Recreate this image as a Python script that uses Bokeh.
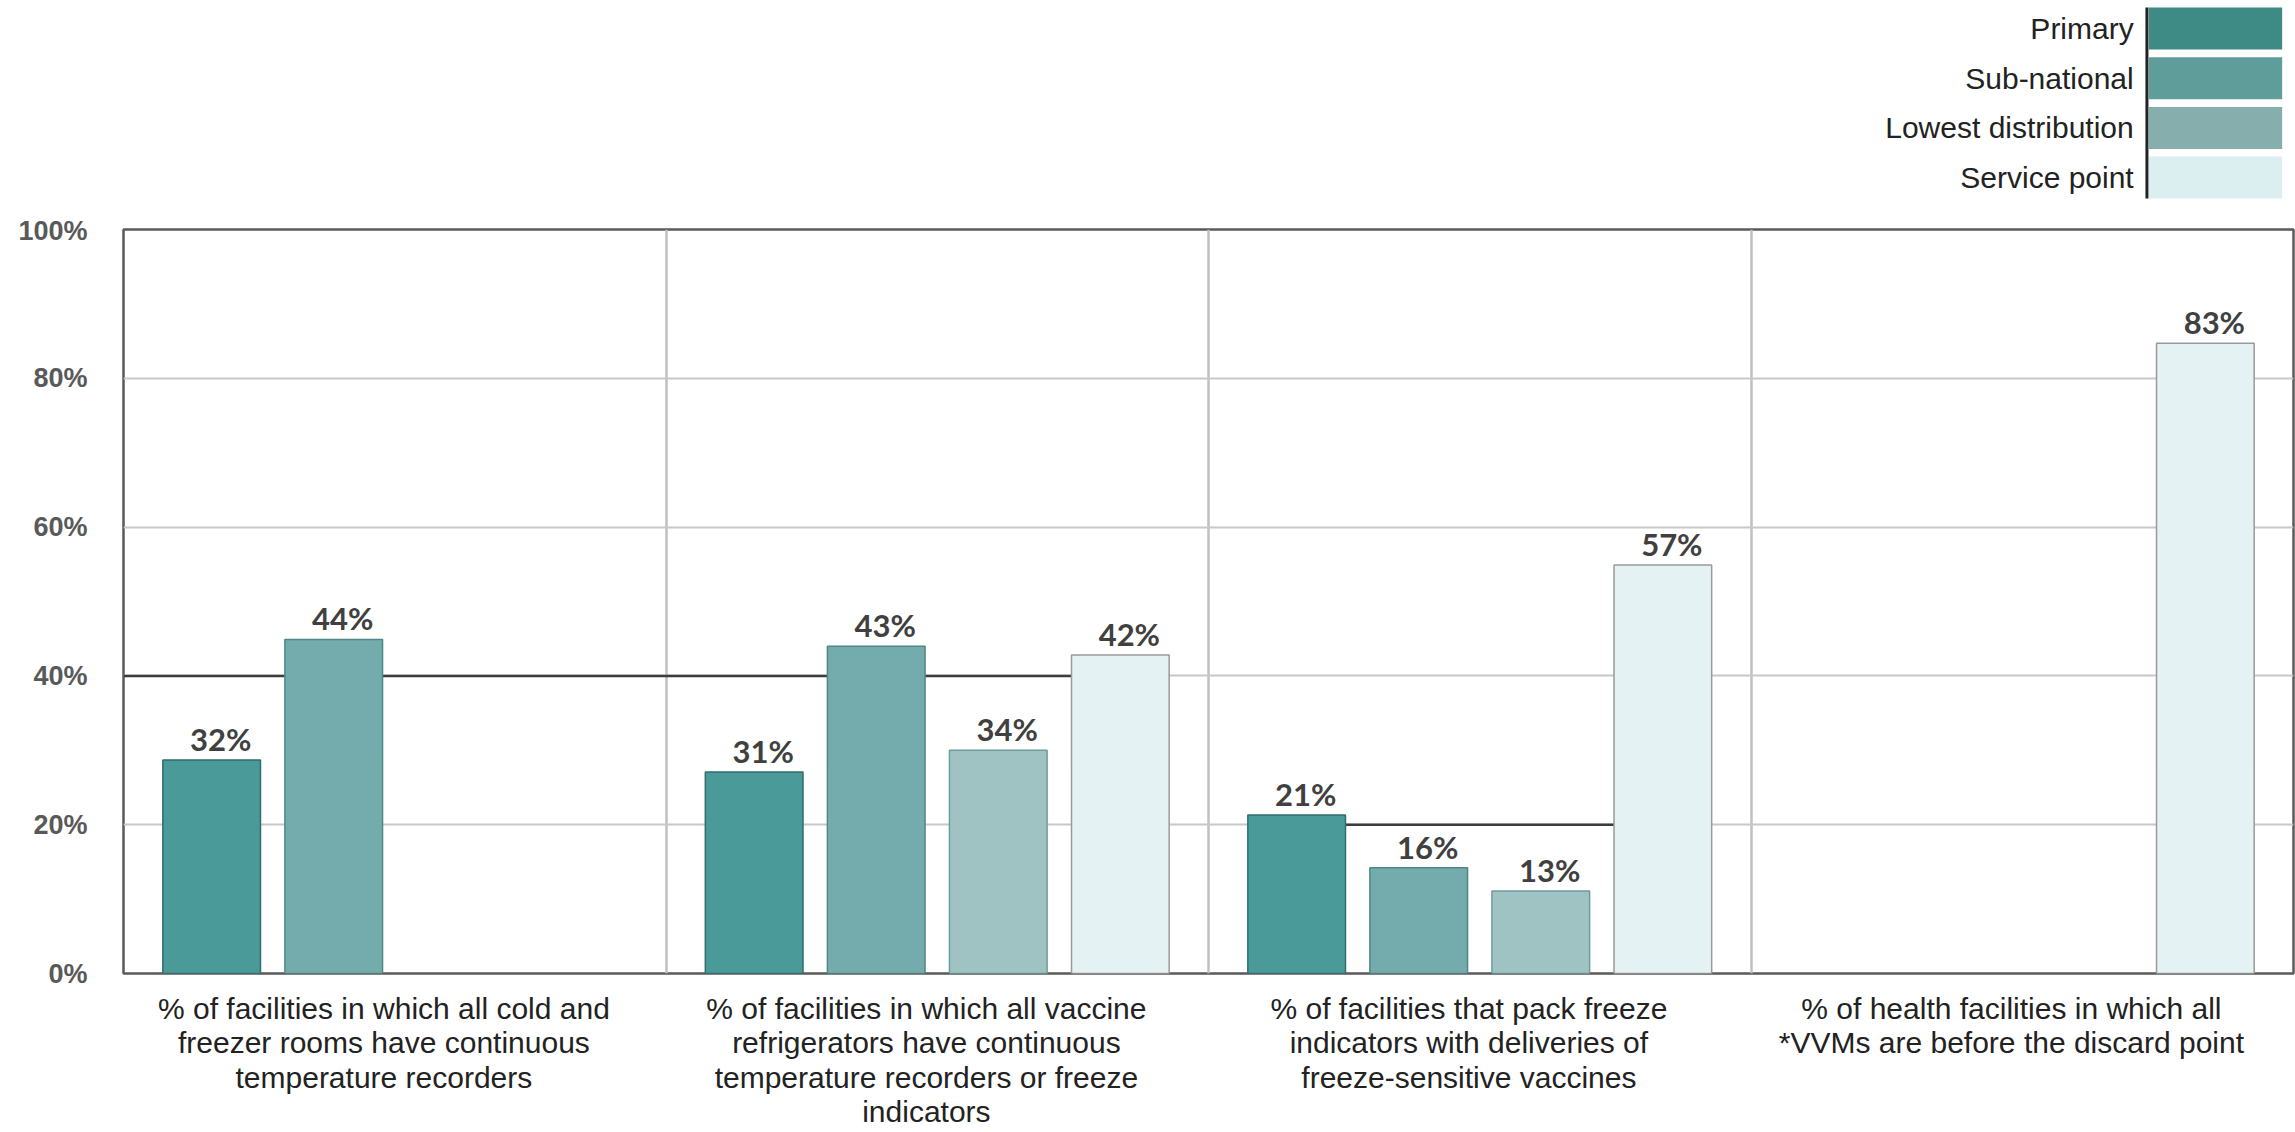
import math
from bokeh.plotting import figure
from bokeh.layouts import column
from bokeh.models import Range1d, FixedTicker, PrintfTickFormatter, ColumnDataSource
from bokeh.core.properties import value
from bokeh.embed import file_html
from bokeh.resources import INLINE

# ---------------- data ----------------
groups = [
    "% of facilities in which all cold and\nfreezer rooms have continuous\ntemperature recorders",
    "% of facilities in which all vaccine\nrefrigerators have continuous\ntemperature recorders or freeze\nindicators",
    "% of facilities that pack freeze\nindicators with deliveries of\nfreeze-sensitive vaccines",
    "% of health facilities in which all\n*VVMs are before the discard point",
]
series = ["Primary", "Sub-national", "Lowest distribution", "Service point"]

# bar heights as drawn (percent)
primary = [28.7, 27.1, 21.3, float("nan")]
sub_national = [44.9, 44.0, 14.2, float("nan")]
lowest = [float("nan"), 30.0, 11.1, float("nan")]
service = [float("nan"), 42.8, 54.9, 84.7]

# printed value labels
primary_labels = ["32%", "31%", "21%", ""]
sub_national_labels = ["44%", "43%", "16%", ""]
lowest_labels = ["", "34%", "13%", ""]
service_labels = ["", "42%", "57%", "83%"]

y_ticks = [0, 20, 40, 60, 80, 100]

# dark reference segments seen in the chart: (level, from group/series edge, to group/series edge)
ref_segments = [
    (40, (0, None), (1, 3)),
    (20, (2, 0), (2, 3)),
]

# ---------------- styling ----------------
bar_colors = ["#4a9a99", "#74acad", "#9fc3c3", "#e4f2f3"]
bar_lines = ["#2f6e6c", "#4f8786", "#6f9b9b", "#9a9a9a"]
legend_colors = ["#3e8a85", "#5f9d9a", "#86aeac", "#dbeef0"]
offsets = [-0.3375, -0.1125, 0.1125, 0.3375]
bar_w = 0.18

W, H = 2295, 1132
LEG_H = 215
MAIN_H = H - LEG_H

# ---------------- legend figure ----------------
leg = figure(width=W, height=LEG_H, x_range=Range1d(0, W), y_range=Range1d(LEG_H, 0),
             output_backend="svg", toolbar_location=None, min_border=0,
             x_axis_type=None, y_axis_type=None)
leg.outline_line_color = None
leg.grid.visible = False
sw_left, sw_right, sw_top, sw_h, sw_step = 2142, 2283, 7, 42, 49.7
tops = [sw_top + i * sw_step for i in range(len(series))]
leg.quad(left=sw_left, right=sw_right, top=[t + sw_h for t in tops], bottom=tops,
         fill_color=legend_colors, line_color=None)
leg.segment(x0=2140, x1=2140, y0=sw_top, y1=tops[-1] + sw_h, line_color="#222222", line_width=3)
leg.text(x=2126, y=[t + sw_h / 2 for t in tops], text=series, text_align="right",
         text_baseline="middle", text_font=value("Liberation Sans"), text_font_size="30px",
         text_color="#222222")

# ---------------- main figure ----------------
p = figure(width=W, height=MAIN_H, x_range=Range1d(0, 4), y_range=Range1d(0, 100),
           output_backend="svg", toolbar_location=None,
           min_border_left=123, min_border_right=2, min_border_top=14, min_border_bottom=159)
p.outline_line_color = "#5a5a5a"
p.outline_line_width = 2.5

p.ygrid.ticker = FixedTicker(ticks=[20, 40, 60, 80])
p.ygrid.grid_line_color = "#c8c8c8"
p.ygrid.grid_line_width = 2
p.xgrid.ticker = FixedTicker(ticks=[1, 2, 3])
p.xgrid.grid_line_color = "#c0c0c0"
p.xgrid.grid_line_width = 2.5

# y axis
p.yaxis.ticker = FixedTicker(ticks=y_ticks)
p.yaxis.formatter = PrintfTickFormatter(format="%d%%")
p.yaxis.axis_line_color = None
p.yaxis.major_tick_line_color = None
p.yaxis.minor_tick_line_color = None
p.yaxis.major_label_standoff = 30
p.yaxis.major_label_text_font = "Liberation Sans"
p.yaxis.major_label_text_font_style = "bold"
p.yaxis.major_label_text_font_size = "27px"
p.yaxis.major_label_text_color = "#595959"

# x axis (labels sit slightly left of group centres in the original)
centers = [i + 0.48 for i in range(len(groups))]
p.xaxis.ticker = FixedTicker(ticks=centers)
p.xaxis.major_label_overrides = {c: g for c, g in zip(centers, groups)}
p.xaxis.axis_line_color = None
p.xaxis.major_tick_line_color = None
p.xaxis.minor_tick_line_color = None
p.xaxis.major_label_standoff = 12
p.xaxis.major_label_text_font = "Liberation Sans"
p.xaxis.major_label_text_font_size = "30px"
p.xaxis.major_label_text_line_height = 1.05
p.xaxis.major_label_text_color = "#222222"
p.xaxis.major_label_text_align = "center"


def edge(gi, si, side):
    if si is None:
        return 0.0
    return gi + 0.5 + offsets[si] + side * bar_w / 2


# reference segments
for level, (g0, s0), (g1, s1) in ref_segments:
    x0 = edge(g0, s0, +1)
    x1 = edge(g1, s1, -1)
    p.segment(x0=x0, x1=x1, y0=level, y1=level, line_color="#3c3c3c", line_width=2.5)

all_vals = [primary, sub_national, lowest, service]
all_labels = [primary_labels, sub_national_labels, lowest_labels, service_labels]
for si, (vals, labs) in enumerate(zip(all_vals, all_labels)):
    xs, tops_, texts = [], [], []
    for gi, (v, t) in enumerate(zip(vals, labs)):
        if v is None or (isinstance(v, float) and math.isnan(v)):
            continue
        xs.append(gi + 0.5 + offsets[si])
        tops_.append(v)
        texts.append(t)
    src = ColumnDataSource(dict(x=xs, top=tops_, text=texts))
    p.vbar(x="x", top="top", bottom=0, width=bar_w, source=src,
           fill_color=bar_colors[si], line_color=bar_lines[si], line_width=1.5)
    p.text(x="x", y="top", text="text", source=src, text_align="center",
           text_baseline="bottom", x_offset=9, y_offset=-2,
           text_font=value("Lato"), text_font_style="bold", text_font_size="31px",
           text_color="#404040")

layout = column(leg, p, spacing=0)
open("out.html", "w").write(file_html(layout, INLINE))
